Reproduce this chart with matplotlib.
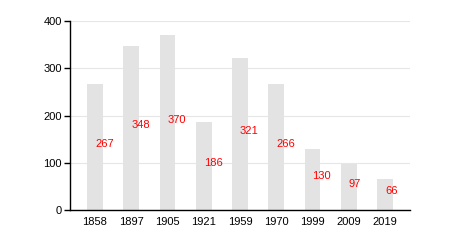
import matplotlib
matplotlib.use('Agg')
import matplotlib.pyplot as plt

years = ['1858', '1897', '1905', '1921', '1959', '1970', '1999', '2009', '2019']
population = [267, 348, 370, 186, 321, 266, 130, 97, 66]
yticks = [0, 100, 200, 300, 400]

plt.rcParams['font.family'] = ['Liberation Sans', 'DejaVu Sans']

fig = plt.figure(figsize=(4.5, 2.5), dpi=100)
ax = fig.add_axes([70/450, 1 - 210/250, 340/450, 189/250])

x = list(range(len(years)))
ax.bar(x, population, width=0.44, color='#e3e3e3', zorder=2)

# value labels start at the bar centre, halfway up
for i, v in enumerate(population):
    ax.text(i, v / 2, str(v), color='#ff0000', fontsize=8, ha='left', va='baseline', zorder=3)

ax.set_xlim(-0.69, 8.69)
ax.set_ylim(0, 400)
ax.set_xticks(x)
ax.set_xticklabels(years)
ax.set_yticks(yticks)
ax.tick_params(axis='x', length=0, labelsize=8, pad=5)
ax.tick_params(axis='y', length=4, width=1, labelsize=8, pad=2)
ax.yaxis.grid(True, color='#e6e6e6', linewidth=0.8, zorder=0)
ax.set_axisbelow(True)

for s in ['top', 'right']:
    ax.spines[s].set_visible(False)
ax.spines['left'].set_linewidth(1)
ax.spines['bottom'].set_linewidth(1)

fig.savefig('out.png', dpi=100)
